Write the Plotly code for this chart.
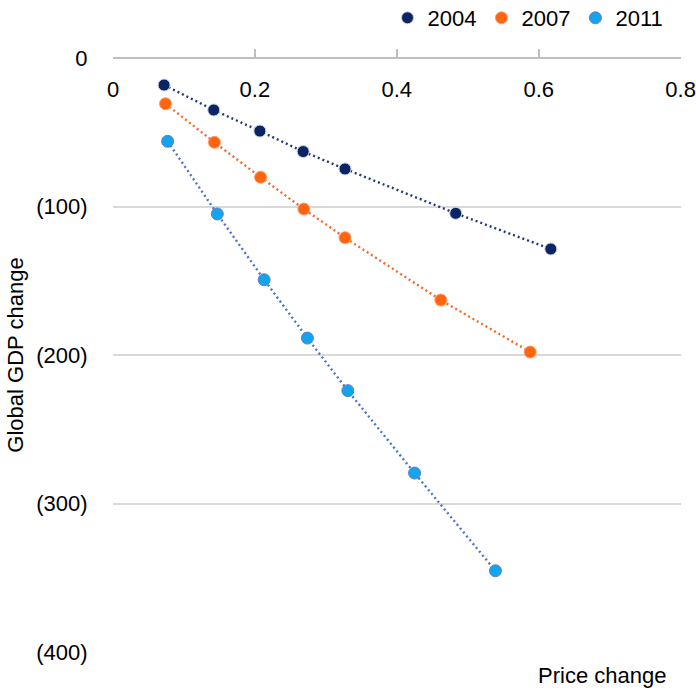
import plotly.graph_objects as go

# Price change (x) vs. global GDP change (y) for three base years
years = ["2004", "2007", "2011"]

price_2004 = [0.072, 0.142, 0.207, 0.268, 0.327, 0.483, 0.617]
gdp_2004 = [-18.2, -35.0, -49.2, -63.0, -74.7, -104.6, -128.6]

price_2007 = [0.074, 0.143, 0.208, 0.269, 0.327, 0.462, 0.588]
gdp_2007 = [-30.8, -56.8, -80.3, -101.7, -121.0, -163.0, -198.0]

price_2011 = [0.077, 0.147, 0.213, 0.274, 0.331, 0.425, 0.539]
gdp_2011 = [-56.1, -105.0, -149.3, -188.6, -224.0, -279.5, -345.3]

y_tick_vals = [0, -100, -200, -300, -400]
y_tick_text = ["0", "(100)", "(200)", "(300)", "(400)"]
x_tick_vals = [0, 0.2, 0.4, 0.6, 0.8]
x_tick_text = ["0", "0.2", "0.4", "0.6", "0.8"]

series = [
    (price_2004, gdp_2004, "#0b2463", "#1f3a7a", "#c8d0e0"),
    (price_2007, gdp_2007, "#ff6410", "#f26a2e", "#ff9a66"),
    (price_2011, gdp_2011, "#12a4ec", "#4a74c8", "#5b7fc9"),
]

FONT = "Liberation Sans, Arial, sans-serif"
FS = 22

fig = go.Figure()

# dotted connector lines (kept out of the legend)
for (xs, ys, mcol, lcol, ocol), name in zip(series, years):
    fig.add_trace(go.Scatter(
        x=xs, y=ys, mode="lines", showlegend=False, hoverinfo="skip",
        line=dict(color=lcol, width=2.4, dash="2px,3px"),
    ))

# markers
for (xs, ys, mcol, lcol, ocol), name in zip(series, years):
    fig.add_trace(go.Scatter(
        x=xs, y=ys, mode="markers", name=name,
        marker=dict(color=mcol, size=12, line=dict(color=ocol, width=1)),
    ))

fig.update_layout(
    width=696, height=690,
    margin=dict(l=113, r=15, t=58, b=38, autoexpand=False),
    paper_bgcolor="white", plot_bgcolor="white",
    font=dict(family=FONT, size=FS, color="#000000"),
    showlegend=True,
    legend=dict(
        orientation="h", x=0.978, xanchor="right",
        yref="container", y=1 - 18 / 690, yanchor="middle",
        font=dict(family=FONT, size=FS, color="#000000"),
        itemwidth=30, traceorder="normal",
        bgcolor="rgba(0,0,0,0)",
    ),
    # price axis drawn along the top edge (GDP = 0) with labels underneath
    xaxis=dict(
        range=[0, 0.8005], anchor="free", position=1, side="bottom",
        tickvals=x_tick_vals, ticktext=x_tick_text,
        ticks="inside", ticklen=8, tickcolor="#bfbfbf", tickwidth=1.5,
        ticklabelstandoff=12,
        showline=True, linecolor="#bfbfbf", linewidth=1.5,
        showgrid=False, zeroline=False,
        tickfont=dict(family=FONT, size=FS, color="#000000"),
    ),
    yaxis=dict(
        range=[-400, 0.01],
        tickvals=y_tick_vals, ticktext=y_tick_text,
        ticks="outside", ticklen=20, tickcolor="rgba(0,0,0,0)",
        showline=False, zeroline=False,
        showgrid=True, gridcolor="#d9d9d9", gridwidth=1.5,
        tickfont=dict(family=FONT, size=FS, color="#000000"),
        title=dict(text="Global GDP change", standoff=6,
                   font=dict(family=FONT, size=FS, color="#000000")),
    ),
    annotations=[dict(
        text="Price change", xref="paper", yref="paper",
        x=0.977, xanchor="right", y=-0.040, yanchor="middle",
        showarrow=False, font=dict(family=FONT, size=FS, color="#000000"),
    )],
)

fig.write_html("out.html")
